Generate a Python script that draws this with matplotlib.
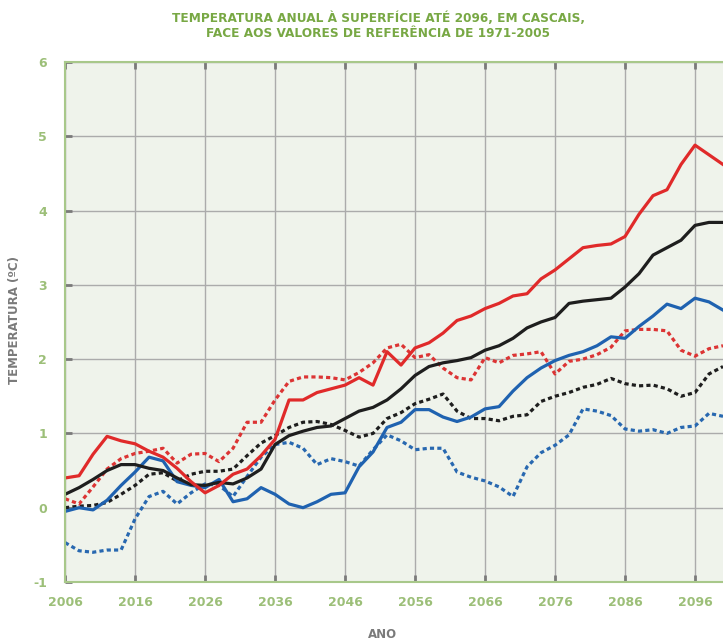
import matplotlib.pyplot as plt

plt.rcParams["axes.unicode_minus"] = False

# years every 2 years, 2006-2100
years = list(range(2006, 2101, 2))

red_solid = [0.40, 0.43, 0.72, 0.96, 0.90, 0.86, 0.76, 0.68, 0.53, 0.35,
             0.20, 0.30, 0.45, 0.52, 0.70, 0.92, 1.45, 1.45, 1.55, 1.60,
             1.65, 1.75, 1.65, 2.10, 1.92, 2.15, 2.22, 2.35, 2.52, 2.58,
             2.68, 2.75, 2.85, 2.88, 3.08, 3.20, 3.35, 3.50, 3.53, 3.55,
             3.65, 3.95, 4.20, 4.28, 4.62, 4.88, 4.75, 4.62]
red_dotted = [0.12, 0.05, 0.28, 0.52, 0.66, 0.73, 0.76, 0.80, 0.60, 0.72,
              0.73, 0.62, 0.80, 1.15, 1.15, 1.45, 1.70, 1.76, 1.76, 1.75,
              1.72, 1.82, 1.95, 2.15, 2.20, 2.02, 2.06, 1.88, 1.75, 1.72,
              2.02, 1.95, 2.05, 2.07, 2.10, 1.80, 1.97, 2.00, 2.06, 2.16,
              2.38, 2.40, 2.40, 2.38, 2.12, 2.04, 2.14, 2.18]
black_solid = [0.18, 0.27, 0.38, 0.50, 0.58, 0.58, 0.53, 0.50, 0.40, 0.31,
               0.30, 0.34, 0.32, 0.40, 0.52, 0.85, 0.97, 1.03, 1.08, 1.10,
               1.20, 1.30, 1.35, 1.45, 1.60, 1.78, 1.90, 1.95, 1.98, 2.02,
               2.12, 2.18, 2.28, 2.42, 2.50, 2.56, 2.75, 2.78, 2.80, 2.82,
               2.97, 3.15, 3.40, 3.50, 3.60, 3.80, 3.84, 3.84]
black_dotted = [0.00, 0.02, 0.03, 0.07, 0.18, 0.30, 0.45, 0.47, 0.36, 0.45,
                0.49, 0.49, 0.52, 0.70, 0.87, 0.97, 1.08, 1.15, 1.16, 1.12,
                1.04, 0.95, 1.00, 1.20, 1.28, 1.40, 1.46, 1.53, 1.30, 1.20,
                1.20, 1.17, 1.23, 1.25, 1.43, 1.50, 1.55, 1.62, 1.66, 1.74,
                1.67, 1.64, 1.65, 1.60, 1.50, 1.55, 1.80, 1.90]
blue_solid = [-0.05, 0.00, -0.03, 0.10, 0.30, 0.48, 0.68, 0.63, 0.35, 0.30,
              0.27, 0.38, 0.08, 0.12, 0.27, 0.18, 0.05, 0.00, 0.08, 0.18,
              0.20, 0.55, 0.75, 1.08, 1.15, 1.32, 1.32, 1.22, 1.16, 1.22,
              1.33, 1.36, 1.57, 1.75, 1.88, 1.98, 2.05, 2.10, 2.18, 2.30,
              2.28, 2.44, 2.58, 2.74, 2.68, 2.82, 2.77, 2.66]
blue_dotted = [-0.47, -0.58, -0.60, -0.57, -0.57, -0.15, 0.15, 0.22, 0.05, 0.20,
               0.32, 0.30, 0.15, 0.42, 0.68, 0.85, 0.88, 0.80, 0.58, 0.66,
               0.62, 0.56, 0.78, 0.98, 0.90, 0.78, 0.80, 0.80, 0.48, 0.41,
               0.36, 0.28, 0.15, 0.55, 0.74, 0.84, 0.98, 1.33, 1.30, 1.24,
               1.06, 1.03, 1.05, 1.00, 1.08, 1.10, 1.27, 1.23]

x_ticks = list(range(2006, 2097, 10))
y_ticks = list(range(-1, 7))

GREEN_TITLE = "#78a844"
GREEN_TICK = "#9cbf78"
GREEN_SPINE = "#a8c88a"
GRAY = "#7a7a7a"

fig = plt.figure(figsize=(7.23, 6.42), dpi=100)
ax = fig.add_axes([0.09, 0.0935, 0.91, 0.81])
ax.set_facecolor("#eff3eb")

lw = 2.3
dots = (1.3, 1.0)
ax.plot(years, blue_dotted, color="#2868b0", lw=lw, linestyle=(0, dots))
ax.plot(years, black_dotted, color="#1e1e1e", lw=lw, linestyle=(0, dots))
ax.plot(years, red_dotted, color="#dc3434", lw=lw, linestyle=(0, dots))
ax.plot(years, blue_solid, color="#1f62b0", lw=lw)
ax.plot(years, black_solid, color="#1e1e1e", lw=lw)
ax.plot(years, red_solid, color="#e02a2a", lw=lw)

ax.set_xlim(2006, 2100)
ax.set_ylim(-1, 6)
ax.set_xticks(x_ticks)
ax.set_yticks(y_ticks)
ax.grid(True, color="#ababab", lw=1.0)
ax.set_axisbelow(True)

ax.tick_params(axis="x", direction="in", length=5, width=2, color=GRAY,
               top=True, labelcolor=GREEN_TICK, labelsize=9, pad=10)
ax.tick_params(axis="y", direction="in", length=5, width=2, color=GRAY,
               labelcolor=GREEN_TICK, labelsize=9, pad=13)
for lab in ax.get_xticklabels() + ax.get_yticklabels():
    lab.set_fontweight("bold")

for side in ["left", "top", "bottom"]:
    ax.spines[side].set_color(GREEN_SPINE)
    ax.spines[side].set_linewidth(1.5)
ax.spines["right"].set_visible(False)

# axis titles placed in figure coordinates so they stay inside the canvas
fig.text(383 / 723, 1 - 634 / 642, "ANO", ha="center", va="center",
         color=GRAY, fontsize=8.5, fontweight="bold")
fig.text(15 / 723, 1 - 320 / 642, "TEMPERATURA (ºC)", ha="center",
         va="center", rotation=90, color=GRAY, fontsize=8.5,
         fontweight="bold")

fig.text(378 / 723, 1 - 26 / 642,
         "TEMPERATURA ANUAL À SUPERFÍCIE ATÉ 2096, EM CASCAIS,\n"
         "FACE AOS VALORES DE REFERÊNCIA DE 1971-2005",
         ha="center", va="center", color=GREEN_TITLE, fontsize=8.7,
         fontweight="bold", linespacing=1.2,
         family=["Liberation Sans Narrow", "DejaVu Sans"])

fig.savefig("out.png", dpi=100)
